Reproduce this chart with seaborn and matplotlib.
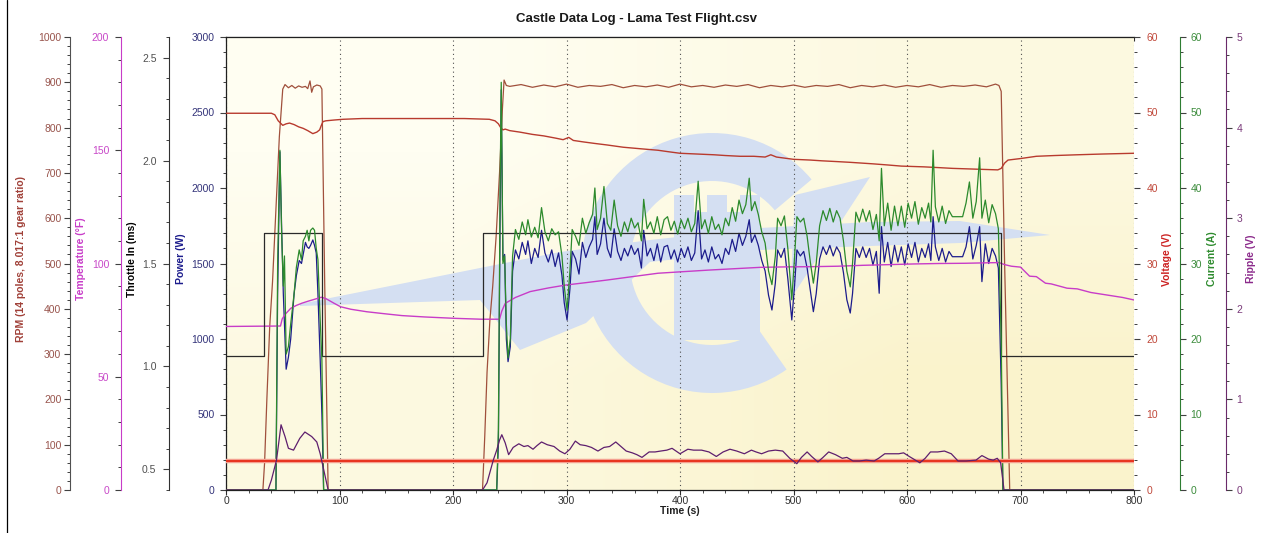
import matplotlib
matplotlib.use("Agg")
import matplotlib.pyplot as plt
import seaborn as sns
from matplotlib.patches import Wedge, Polygon, Rectangle
from matplotlib.lines import Line2D
from matplotlib.ticker import MultipleLocator, FormatStrFormatter
from matplotlib.colors import LinearSegmentedColormap

sns.set_style("white")
plt.rcParams["font.family"] = ["Liberation Sans", "DejaVu Sans"]

# ---------------- data ----------------
throttle_t = [0, 33.5, 85, 226, 683, 800]
throttle_ms = [1.05, 1.65, 1.05, 1.65, 1.05, 1.05]

rpm_t = [0, 32.5, 34, 36, 38.5, 41, 44, 47, 50, 52, 55, 58, 61, 64, 67, 70, 72, 74, 75.5, 77,
         80, 83, 84.5, 87, 90, 226, 228, 230, 232.5, 235, 238, 241, 243.5, 245, 247,
         250, 260, 270, 280, 290, 300, 310, 320, 330, 340, 350, 360, 370, 380, 390,
         400, 410, 420, 430, 440, 450, 460, 470, 480, 490, 500, 510, 520, 530, 540,
         550, 560, 570, 580, 590, 600, 610, 620, 630, 640, 650, 660, 670, 678, 681,
         683, 686, 690.5, 800]
rpm = [0, 0, 60, 200, 360, 460, 620, 780, 885, 895, 888, 893, 887, 892, 889, 891, 886, 903, 878, 890,
       894, 892, 885, 450, 0, 0, 120, 260, 375, 450, 560, 700, 840, 905, 893,
       891, 895, 889, 894, 890, 896, 889, 893, 891, 895, 888, 893, 890, 894, 889,
       896, 890, 893, 889, 894, 891, 895, 888, 893, 890, 894, 889, 893, 891, 895,
       888, 893, 890, 894, 889, 893, 890, 895, 889, 893, 891, 894, 890, 896, 893,
       880, 500, 0, 0]

volt_t = [0, 40, 43, 46, 50, 53, 56, 60, 64, 68, 72, 76.5, 80, 82.5, 84, 85.5, 88, 95, 103, 120,
          150, 180, 210, 232, 237, 240, 242, 244, 246, 250, 259, 270, 280, 290.6, 297, 302, 306,
          315, 325, 335.7, 350, 365, 380.6, 390, 400, 415, 430, 440, 453, 465, 475, 480, 485,
          500, 515, 525, 538, 550, 560, 570, 583, 595, 605, 615, 628, 640, 650, 660, 670, 680,
          683, 686, 689, 700, 714, 730, 750, 772, 800]
voltage = [49.9, 49.9, 49.7, 48.9, 48.3, 48.5, 48.6, 48.4, 48.1, 47.9, 47.6, 47.2, 47.4, 47.7, 48.3,
           48.8, 48.9, 49.0, 49.1, 49.2, 49.2, 49.2, 49.2, 49.1, 48.9, 48.5, 48.0, 47.7, 47.8, 47.6,
           47.4, 47.1, 46.9, 46.6, 46.4, 46.7, 46.3, 46.1, 45.9, 45.7, 45.4, 45.2, 45.0, 44.8, 44.6,
           44.5, 44.4, 44.3, 44.2, 44.2, 44.1, 44.4, 44.1, 43.8, 43.7, 43.6, 43.5, 43.4, 43.3, 43.2,
           43.05, 42.9, 42.85, 42.8, 42.7, 42.6, 42.55, 42.5, 42.45, 42.4, 42.6, 43.3, 43.7, 43.9,
           44.2, 44.3, 44.4, 44.5, 44.6]

temp_t = [0, 48, 49.5, 52, 57, 62, 67, 72, 78, 84, 88, 95, 101, 110, 124, 140, 155, 175, 201, 225,
          241, 243, 246, 255, 268, 284, 299.5, 318, 335.7, 358, 380.6, 403, 425.6, 448, 470.6,
          493, 516, 539, 561, 584, 606, 628, 651, 670, 681, 686, 692, 700, 708, 714, 722, 727,
          741, 750, 762, 776, 790, 800]
temperature = [72.2, 72.4, 75.5, 77.5, 80.2, 81.5, 82.5, 83.3, 84.2, 85.1, 84.5, 82.5, 80.9, 79.8,
               78.7, 77.8, 77.0, 76.4, 75.8, 75.4, 75.4, 79.0, 82.4, 85.0, 87.6, 89.2, 90.5, 91.6,
               92.7, 94.2, 95.7, 96.4, 97.1, 97.7, 98.3, 98.5, 98.6, 98.8, 99.2, 99.5, 99.8, 100.0,
               100.1, 100.3, 100.4, 99.5, 98.8, 98.4, 94.4, 94.2, 91.3, 91.0, 89.1, 88.8, 87.2,
               86.1, 85.0, 83.9]

ripple_t = [0, 37, 40, 44.5, 48.5, 52, 55, 59.5, 65, 69.5, 75.5, 80, 83, 86.5, 90,
            226, 230, 235.5, 238.5, 241, 243, 246, 249, 253, 258, 262.5, 266, 270.5, 274, 278,
            283, 289, 294, 298.6, 303, 307.8, 312, 317, 322, 327.7, 333, 338, 343.4, 348, 352.6,
            358, 362, 366.5, 372.8, 378, 383, 388.4, 393, 400, 406.9, 412, 419, 425.5, 432, 438,
            444, 450, 456.7, 462.9, 467, 471.9, 478, 484, 490.5, 496.7, 502.9, 507, 512, 516,
            521.5, 526, 531, 537, 543, 547, 552.5, 558, 564, 571, 575, 580.4, 586, 592.7, 597,
            602, 606, 611.3, 616, 620.7, 627, 633, 639, 645, 652, 660.8, 666, 672, 676, 679.5,
            682.5, 685.5, 800]
ripple = [0, 0, 0.11, 0.33, 0.72, 0.59, 0.46, 0.44, 0.57, 0.64, 0.59, 0.53, 0.40, 0.20, 0,
          0, 0.08, 0.33, 0.44, 0.55, 0.61, 0.52, 0.39, 0.47, 0.51, 0.48, 0.49, 0.45, 0.49, 0.53,
          0.50, 0.48, 0.43, 0.40, 0.45, 0.54, 0.50, 0.49, 0.47, 0.43, 0.47, 0.48, 0.53, 0.48, 0.43,
          0.41, 0.39, 0.36, 0.42, 0.42, 0.43, 0.44, 0.46, 0.40, 0.45, 0.44, 0.44, 0.42, 0.37, 0.42,
          0.45, 0.43, 0.40, 0.44, 0.42, 0.40, 0.43, 0.44, 0.43, 0.35, 0.29, 0.36, 0.42, 0.37,
          0.31, 0.36, 0.42, 0.39, 0.35, 0.36, 0.32, 0.32, 0.33, 0.32, 0.35, 0.40, 0.40, 0.40, 0.41,
          0.37, 0.34, 0.30, 0.35, 0.42, 0.42, 0.43, 0.40, 0.32, 0.32, 0.33, 0.38, 0.34, 0.33, 0.35,
          0.30, 0, 0]

ripple_limit_t = [0, 800]
ripple_limit = [0.323, 0.323]

log_time = [0, 44, 45.5, 47.5, 49, 50.5, 51.5, 53, 55, 57,
            60, 62, 64.5, 66.5, 68, 70, 71.5, 73, 74.5, 76.5,
            78, 79.5, 81, 83, 84.5, 86,
            238.5, 240, 241.5, 242.5, 244, 245.5, 247, 248.5, 250.5, 252.5,
            255, 258, 261, 264, 266, 269, 272, 275, 278, 281,
            284, 287, 290, 293, 296, 298, 300.5, 303, 305, 308,
            311, 314, 317, 320, 323, 325, 327, 330, 333, 336,
            339, 342, 345, 348, 351, 354, 357, 360, 363, 366,
            368, 371, 374, 377, 380, 383, 386, 389, 392, 395,
            398, 401, 404, 407, 410, 413, 416, 419, 422, 425,
            428, 431, 434, 437, 440, 443, 446, 449, 452, 455,
            458, 461, 463, 466, 469, 472, 475, 478, 481, 484,
            486, 489, 492, 495, 498.5, 501, 503, 506, 509, 512,
            515, 517.5, 520, 523, 526, 529, 532, 535, 538, 541,
            544, 547, 550, 552, 555, 558, 561, 564, 567, 570,
            573, 575.5, 577.5, 580, 583, 586, 589, 592, 595, 598,
            601, 604, 607, 610, 613, 616, 619, 621, 623, 625,
            628, 631, 634, 637, 640, 643, 646, 649, 652, 655,
            658, 661, 664, 666, 669, 672, 675, 678, 680.5, 683,
            684.5, 800]
current_a = [0, 0, 30, 45, 34, 27, 31, 18, 19, 22,
             26, 29.5, 31.8, 30.5, 33, 33.6, 34.4, 33, 34.4, 34.7,
             34.4, 32, 30.5, 22.5, 17.2, 0,
             0, 8, 40, 54, 30, 31, 22, 17.5, 20, 31,
             34.5, 33.2, 35.5, 33.8, 35.8, 33.5, 34.8, 33.4, 37.4, 34.2,
             33, 34.6, 33.8, 34.2, 31, 27, 23.8, 29, 34.5, 33.6,
             32.4, 36, 34, 35.4, 36.5, 40, 34.5, 36, 40.2, 35.3,
             34.4, 38.4, 35, 33.6, 35.5, 34.2, 36, 34.7, 35.4, 33,
             38.5, 34.6, 35.5, 34, 36.2, 33.8, 35.8, 36.2, 34.4, 35.6,
             33.9, 35.8, 34.6, 36, 34.2, 35.3, 40.9, 34.6, 35.8, 34,
             36.2, 34.5, 35.2, 33.8, 36, 35, 37.4, 35.6, 38.4, 36.6,
             37.8, 41.3, 37, 38.2, 36.5, 34.2, 32.7, 29, 27.2, 31,
             36, 35, 36.3, 32, 25.2, 31, 36.2, 35.5, 36, 33.6,
             30, 27.4, 30, 35, 37, 35.7, 37.3, 35.5, 37, 36,
             33, 29, 26.9, 30, 36.8, 35.5, 37.2, 35.6, 37, 34.5,
             36.5, 33, 42.6, 35, 38, 34.4, 37.6, 35, 37.6, 34.8,
             38, 36, 38.2, 35.2, 37.4, 36, 38, 35.5, 45, 37.5,
             35.5, 37.6, 35.3, 37, 36.2, 36.2, 36.2, 36.2, 38, 40.8,
             36, 38.2, 44, 36, 38.4, 35.4, 37.8, 36.6, 34.6, 20,
             0, 0]
power_w = [0, 0, 1300, 2240, 1744, 1300, 1100, 800, 880, 1000,
           1300, 1420, 1520, 1500, 1560, 1640, 1610, 1600, 1620, 1656,
           1620, 1570, 1300, 860, 500, 0,
           0, 300, 1800, 2650, 1523, 1560, 1000, 850, 950, 1450,
           1590, 1530, 1640, 1560, 1650, 1500, 1600, 1540, 1720, 1570,
           1510, 1590, 1480, 1570, 1420, 1240, 1126, 1330, 1580, 1530,
           1430, 1640, 1540, 1610, 1660, 1810, 1560, 1630, 1800, 1600,
           1540, 1730, 1580, 1520, 1600, 1550, 1620, 1560, 1600, 1470,
           1720, 1550, 1600, 1520, 1630, 1510, 1610, 1620, 1530, 1590,
           1510, 1600, 1540, 1610, 1520, 1570, 1850, 1530, 1590, 1510,
           1610, 1530, 1560, 1500, 1600, 1560, 1660, 1580, 1700, 1620,
           1680, 1790, 1640, 1690, 1620, 1520, 1450, 1290, 1192, 1370,
           1590, 1540, 1600, 1400, 1126, 1360, 1590, 1550, 1580, 1470,
           1310, 1181, 1300, 1530, 1610, 1560, 1620, 1550, 1610, 1570,
           1440, 1260, 1172, 1300, 1600, 1540, 1610, 1540, 1600, 1490,
           1580, 1303, 1744, 1510, 1640, 1480, 1620, 1510, 1610, 1490,
           1630, 1540, 1640, 1510, 1600, 1540, 1630, 1520, 1810, 1610,
           1520, 1600, 1510, 1580, 1545, 1545, 1545, 1545, 1610, 1744,
           1530, 1620, 1744, 1380, 1630, 1500, 1600, 1550, 1470, 700,
           0, 0]

# ---------------- colours ----------------
c_rpm = "#A0503C"
c_volt = "#B83A2E"
c_temp = "#C83CC8"
c_thr = "#2A2A2A"
c_pow = "#1C1C8C"
c_cur = "#2C8A2C"
c_rip = "#5E1F6E"
logo_blue = "#D4DFF2"

fig = plt.figure(figsize=(12.65, 5.33), dpi=100)
fig.patch.set_facecolor("white")
ax = fig.add_axes([226 / 1265, 43 / 533, 908 / 1265, 453 / 533])

# pale yellow gradient background
bg = LinearSegmentedColormap.from_list("bg", ["#FFFEF2", "#FAF3CC"])
ax.imshow([[0.0, 0.45], [0.45, 1.0]], cmap=bg, interpolation="bilinear", aspect="auto",
          extent=[0, 1, 0, 1], transform=ax.transAxes, zorder=0.1)


# watermark logo, placed in figure pixels
def px(x, y):
    return (x / 100, (533 - y) / 100)


logo = [
    Wedge(px(712, 263), 1.30, 40, 305, width=0.48),
    Rectangle(px(674, 340), 0.86, 1.28),
    Rectangle(px(674, 212), 0.20, 0.17),
    Rectangle(px(707, 212), 0.20, 0.17),
    Rectangle(px(740, 212), 0.20, 0.17),
    Polygon([px(300, 304), px(450, 274), px(560, 252), px(650, 240), px(760, 228), px(870, 222),
             px(960, 221), px(1050, 235), px(960, 243), px(870, 246), px(760, 250), px(650, 262),
             px(586, 323), px(520, 350), px(480, 300), px(300, 306)]),
    Polygon([px(790, 300), px(795, 195), px(870, 177)]),
]
for p in logo:
    p.set_transform(fig.dpi_scale_trans)
    p.set_facecolor(logo_blue)
    p.set_edgecolor("none")
    p.set_zorder(0.2)
    ax.add_patch(p)


def side_axis(side, pos, spine_color):
    a = ax.twinx()
    a.patch.set_visible(False)
    for s in a.spines.values():
        s.set_visible(False)
    a.spines[side].set_visible(True)
    a.spines[side].set_position(("axes", pos))
    a.spines[side].set_color(spine_color)
    a.yaxis.set_ticks_position(side)
    a.yaxis.set_label_position(side)
    return a


ax_rpm = side_axis("left", -0.1718, "#505050")
ax_temp = side_axis("left", -0.116, c_temp)
ax_thr = side_axis("left", -0.0628, "#303030")
ax_volt = side_axis("right", 1.0, "#505050")
ax_volt.spines["right"].set_visible(False)
ax_cur = side_axis("right", 1.0507, "#2E7D32")
ax_rip = side_axis("right", 1.1013, "#6A2A6A")

# ---------------- series ----------------
sns.lineplot(x=log_time, y=power_w, ax=ax, color=c_pow, lw=0.9, estimator=None, sort=False)
sns.lineplot(x=rpm_t, y=rpm, ax=ax_rpm, color=c_rpm, lw=0.9, estimator=None, sort=False)
sns.lineplot(x=temp_t, y=temperature, ax=ax_temp, color=c_temp, lw=1.0, estimator=None, sort=False)
sns.lineplot(x=throttle_t, y=throttle_ms, ax=ax_thr, color=c_thr, lw=0.9, estimator=None,
             sort=False, drawstyle="steps-post")
sns.lineplot(x=volt_t, y=voltage, ax=ax_volt, color=c_volt, lw=1.0, estimator=None, sort=False)
sns.lineplot(x=log_time, y=current_a, ax=ax_cur, color=c_cur, lw=0.9, estimator=None, sort=False)
sns.lineplot(x=ripple_limit_t, y=ripple_limit, ax=ax_rip, color="#F4A090", lw=3.2,
             estimator=None, sort=False)
sns.lineplot(x=ripple_limit_t, y=ripple_limit, ax=ax_rip, color="#E8341E", lw=1.4,
             estimator=None, sort=False)
sns.lineplot(x=ripple_t, y=ripple, ax=ax_rip, color=c_rip, lw=0.9, estimator=None, sort=False)

# ---------------- axes ----------------
ax.set_xlim(0, 800)
ax.set_ylim(0, 3000)
ax_rpm.set_ylim(0, 1000)
ax_temp.set_ylim(0, 200)
ax_thr.set_ylim(0.4, 2.6)
ax_volt.set_ylim(0, 60)
ax_cur.set_ylim(0, 60)
ax_rip.set_ylim(0, 5)

ax.spines["right"].set_visible(False)
for s in ["left", "bottom", "top"]:
    ax.spines[s].set_color("#202020")
    ax.spines[s].set_linewidth(0.9)

ax.xaxis.set_major_locator(MultipleLocator(100))
ax.xaxis.set_minor_locator(MultipleLocator(20))
ax.grid(axis="x", which="major", linestyle=(0, (1, 3)), color="#505050", lw=0.8)
ax.tick_params(axis="x", which="both", bottom=True, direction="out", color="#303030",
               labelsize=7.5, labelcolor="#303030", pad=0.5)
ax.tick_params(axis="x", which="major", length=3.5)
ax.tick_params(axis="x", which="minor", length=2.5)
top = ax.secondary_xaxis("top")
top.xaxis.set_major_locator(MultipleLocator(20))
top.tick_params(direction="in", length=3, labeltop=False, color="#303030")

axis_specs = [
    (ax, "left", 500, 100, "%d", "#34347A", 4.3, "Power (W)", c_pow, -0.044),
    (ax_rpm, "left", 100, 20, "%d", "#98544C", 2.2, "RPM (14 poles, 8.017:1 gear ratio)", "#A04038", -0.2203),
    (ax_temp, "left", 50, 10, "%d", "#C848C8", 4.3, "Temperature (°F)", c_temp, -0.1542),
    (ax_thr, "left", 0.5, 0.1, "%.1f", "#505050", 5.0, "Throttle In (ms)", "black", -0.098),
    (ax_volt, "right", 10, 2, "%d", "#C0483A", 5.0, "Voltage (V)", "#CC2222", 1.0308),
    (ax_cur, "right", 10, 2, "%d", "#3C8C3C", 3.6, "Current (A)", "#2E8B2E", 1.0804),
    (ax_rip, "right", 1, 0.2, "%d", "#7A3A7A", 3.6, "Ripple (V)", "#8B2A8B", 1.1233),
]
for a, side, major, minor, fmt, tcol, pad, label, lcol, lx in axis_specs:
    a.yaxis.set_major_locator(MultipleLocator(major))
    a.yaxis.set_minor_locator(MultipleLocator(minor))
    a.yaxis.set_major_formatter(FormatStrFormatter(fmt))
    a.tick_params(axis="y", which="both", direction="out", color="#404040",
                  left=(side == "left"), right=(side == "right"),
                  labelleft=(side == "left"), labelright=(side == "right"),
                  labelsize=7.5, labelcolor=tcol, pad=pad)
    a.tick_params(axis="y", which="major", length=4, width=0.8)
    a.tick_params(axis="y", which="minor", length=2, width=0.7)
    a.set_ylabel(label, color=lcol, fontsize=7.5, fontweight="bold")
    a.yaxis.set_label_coords(lx, 0.51)

ax.set_xlabel("Time (s)", fontsize=7.5, fontweight="bold", color="#202020", labelpad=0)

fig.text(0.503, 0.964, "Castle Data Log - Lama Test Flight.csv", ha="center", va="center",
         fontsize=9.5, fontweight="bold", color="#1A1A1A")

# thin frame line at the left edge of the image
fig.add_artist(Line2D([7 / 1265, 7 / 1265], [0, 1], color="black", lw=0.9,
                      transform=fig.transFigure))

fig.savefig("out.png", dpi=100)
